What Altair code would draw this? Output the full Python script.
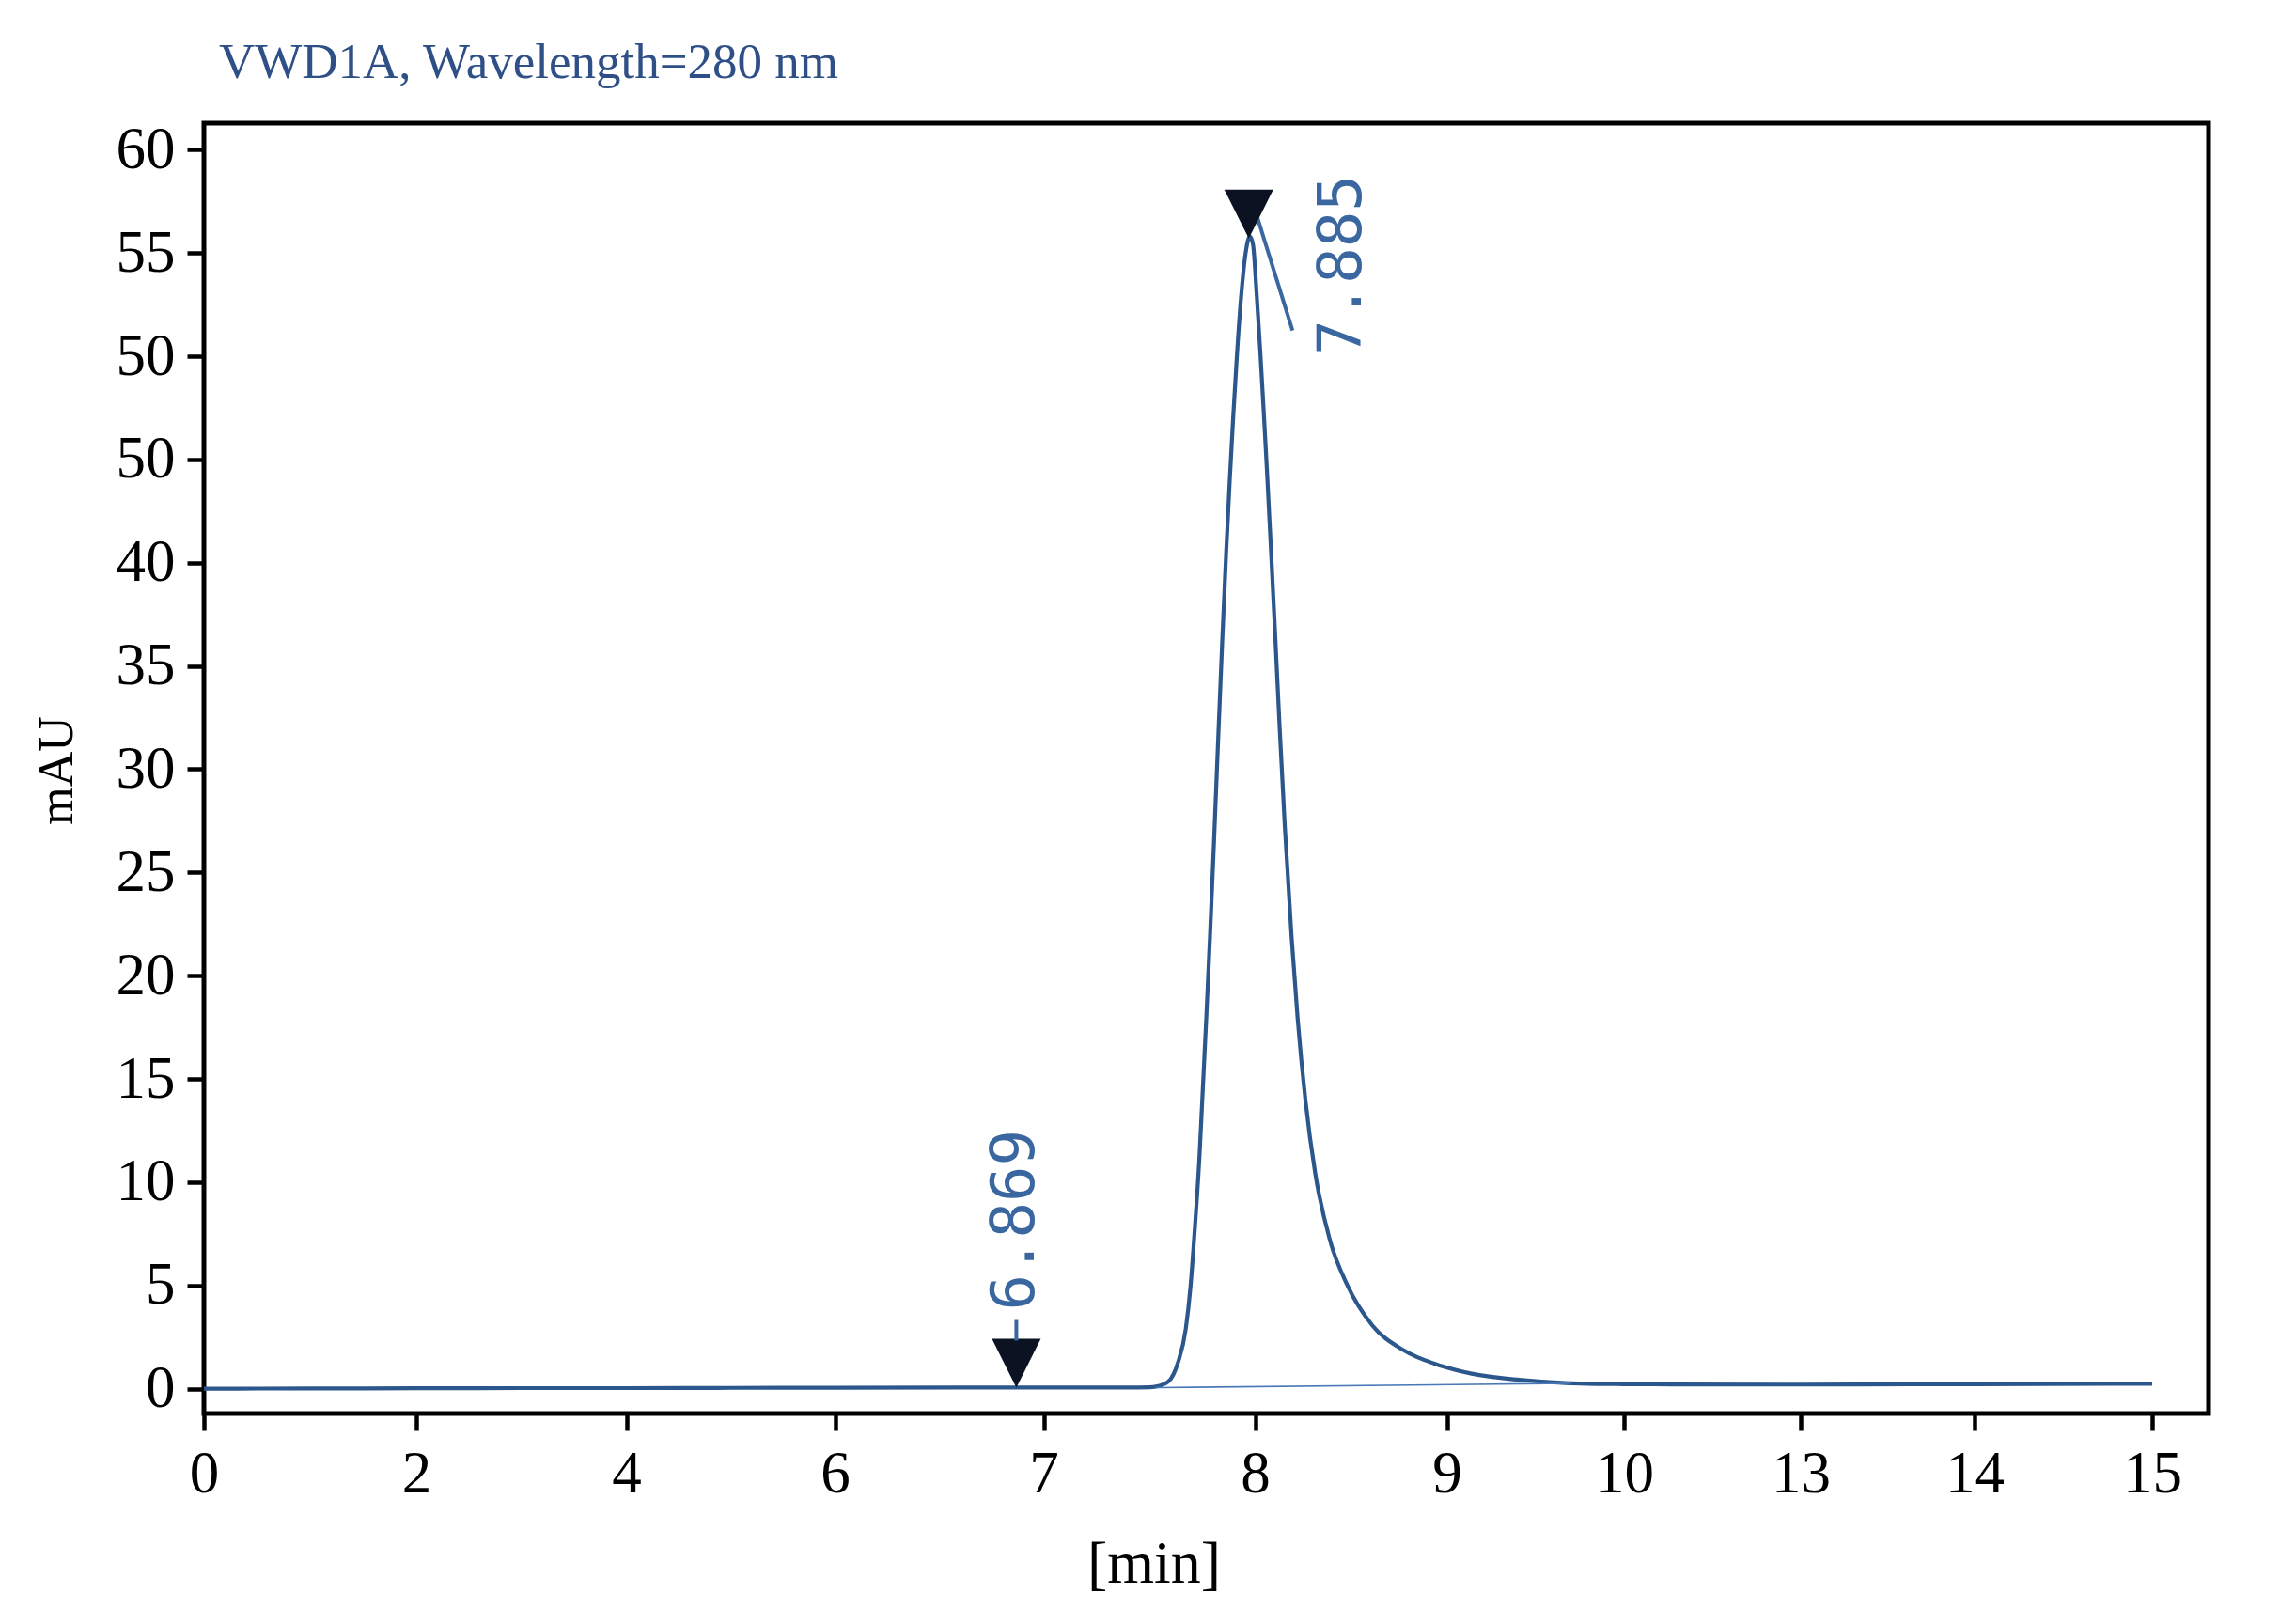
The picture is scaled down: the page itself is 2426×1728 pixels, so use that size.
import altair as alt
import pandas as pd

# ---------------- data ----------------
title_text = "VWD1A, Wavelength=280 nm"
y_title = "mAU"
x_title = "[min]"

x_ticks = [0, 2, 4, 6, 7, 8, 9, 10, 13, 14, 15]
y_ticks = [0, 5, 10, 15, 20, 25, 30, 35, 40, 45, 50, 55, 60]
y_tick_labels = ["0", "5", "10", "15", "20", "25", "30", "35", "40", "50", "50", "55", "60"]

time_min = [0, 1, 2, 3, 4, 5, 6, 7, 7.4, 7.5, 7.531,
            7.59, 7.635, 7.672, 7.694, 7.717, 7.736, 7.751, 7.769, 7.787,
            7.806, 7.825, 7.844, 7.863, 7.88, 7.896, 7.913, 7.933, 7.955,
            7.975, 7.99, 8.008, 8.027, 8.045, 8.062, 8.079, 8.104, 8.128,
            8.155, 8.19, 8.222, 8.262, 8.314, 8.39, 8.479, 8.61, 8.773,
            8.969, 9.14, 9.41, 9.67, 9.85, 10, 10.5, 13, 14, 15]
signal_mau = [0.0, 0.01, 0.02, 0.03, 0.03, 0.04, 0.05, 0.06, 0.06, 0.07, 0.1,
              0.35, 1.26, 2.9, 4.9, 8.09, 11.1, 14.2, 17.95, 22.0,
              26.6, 31.4, 36.1, 40.5, 44.0, 47.0, 49.9, 52.8, 55.0,
              55.8, 55.4, 53.0, 50.2, 47.3, 44.4, 41.3, 36.6, 32.0,
              27.2, 21.9, 17.9, 14.0, 10.4, 7.2, 5.05, 3.08, 1.87,
              1.11, 0.73, 0.43, 0.27, 0.23, 0.22, 0.21, 0.2, 0.22, 0.24]

baseline_x = [7.531, 9.7]
baseline_y = [0.05, 0.26]

tangent_x = [7.99, 8.195]
tangent_y = [57.4, 51.25]

peak_x = [6.869, 7.97]
peak_y = [0.05, 55.7]
peak_labels = ["6.869", "7.885"]

# ---------------- styling ----------------
LINE = "#2b578c"
LABEL = "#3b67a0"
TITLE = "#2f4f87"
SERIF = "Liberation Serif"

x_range_px = [0, 226, 449.6, 671.5, 893.5, 1118.5, 1322.5, 1511, 1699, 1884, 2073]
W, H = 2133, 1373

xscale = alt.Scale(domain=x_ticks, range=x_range_px, nice=False, zero=False)
yscale = alt.Scale(domain=[-1.2, 61.29], nice=False, zero=False)

label_expr = "[" + ",".join("'%s'" % s for s in y_tick_labels) + "][indexof([" + \
    ",".join(str(v) for v in y_ticks) + "], datum.value)]"

xaxis = alt.Axis(values=x_ticks, format="d", title=None, labelPadding=15, labelFlush=False)
yaxis = alt.Axis(values=y_ticks, labelExpr=label_expr, title=None, labelPadding=13, labelFlush=False)

curve_df = pd.DataFrame({"t": time_min, "v": signal_mau})
base_df = pd.DataFrame({"t": baseline_x, "v": baseline_y})
tan_df = pd.DataFrame({"t": tangent_x, "v": tangent_y})
peak_df = pd.DataFrame({"t": peak_x, "v": peak_y, "lab": peak_labels, "i": [0, 1]})

curve = alt.Chart(curve_df).mark_line(color=LINE, strokeWidth=4.2, interpolate="monotone").encode(
    x=alt.X("t:Q", scale=xscale, axis=xaxis),
    y=alt.Y("v:Q", scale=yscale, axis=yaxis),
)

base = alt.Chart(base_df).mark_line(color="#4a78b8", strokeWidth=1.6).encode(
    x=alt.X("t:Q", scale=xscale), y=alt.Y("v:Q", scale=yscale)
)

tangent = alt.Chart(tan_df).mark_line(color=LABEL, strokeWidth=4).encode(
    x=alt.X("t:Q", scale=xscale), y=alt.Y("v:Q", scale=yscale)
)

markers = alt.Chart(peak_df).mark_point(
    shape="M-1,-2L1,-2L0,0Z", size=2704, filled=True, color="#0b1222", opacity=1
).encode(x=alt.X("t:Q", scale=xscale), y=alt.Y("v:Q", scale=yscale))

stem = alt.Chart(peak_df).transform_filter("datum.i == 0").mark_rule(
    color=LABEL, strokeWidth=4, yOffset=-50, y2Offset=-72
).encode(x=alt.X("t:Q", scale=xscale), y=alt.Y("v:Q", scale=yscale), y2="v:Q")

lab0 = alt.Chart(peak_df).transform_filter("datum.i == 0").mark_text(
    angle=270, align="left", baseline="middle", font="DejaVu Sans Mono",
    fontSize=64, color=LABEL, yOffset=-82
).encode(x=alt.X("t:Q", scale=xscale), y=alt.Y("v:Q", scale=yscale), text="lab:N")

lab1 = alt.Chart(peak_df).transform_filter("datum.i == 1").mark_text(
    angle=270, align="left", baseline="middle", font="DejaVu Sans Mono",
    fontSize=64, color=LABEL, xOffset=100, yOffset=125
).encode(x=alt.X("t:Q", scale=xscale), y=alt.Y("v:Q", scale=yscale), text="lab:N")

one = pd.DataFrame({"title": [title_text], "ytitle": [y_title], "xtitle": [x_title]})

title_mark = alt.Chart(one).mark_text(
    align="left", baseline="alphabetic", font=SERIF, fontSize=53, color=TITLE
).encode(text="title:N", x=alt.value(16), y=alt.value(-48))

ytitle_mark = alt.Chart(one).mark_text(
    angle=270, align="center", baseline="alphabetic", font=SERIF, fontSize=52, color="black"
).encode(text="ytitle:N", x=alt.value(-140), y=alt.value(689))

xtitle_mark = alt.Chart(one).mark_text(
    align="center", baseline="alphabetic", font=SERIF, fontSize=64, color="black"
).encode(text="xtitle:N", x=alt.value(1011), y=alt.value(1553))

chart = alt.layer(
    curve, base, tangent, markers, stem, lab0, lab1, title_mark, ytitle_mark, xtitle_mark
).properties(
    width=W, height=H,
    autosize=alt.AutoSizeParams(type="none"),
    padding={"left": 209, "top": 123, "right": 60, "bottom": 200},
    background="white",
).configure_view(
    stroke="black", strokeWidth=5
).configure_axis(
    domain=False, grid=False, tickColor="black", tickWidth=4.5, tickSize=18,
    labelFont=SERIF, labelFontSize=63, labelColor="black",
)

chart.save("out.html", embed_options={"renderer": "svg", "actions": False})
